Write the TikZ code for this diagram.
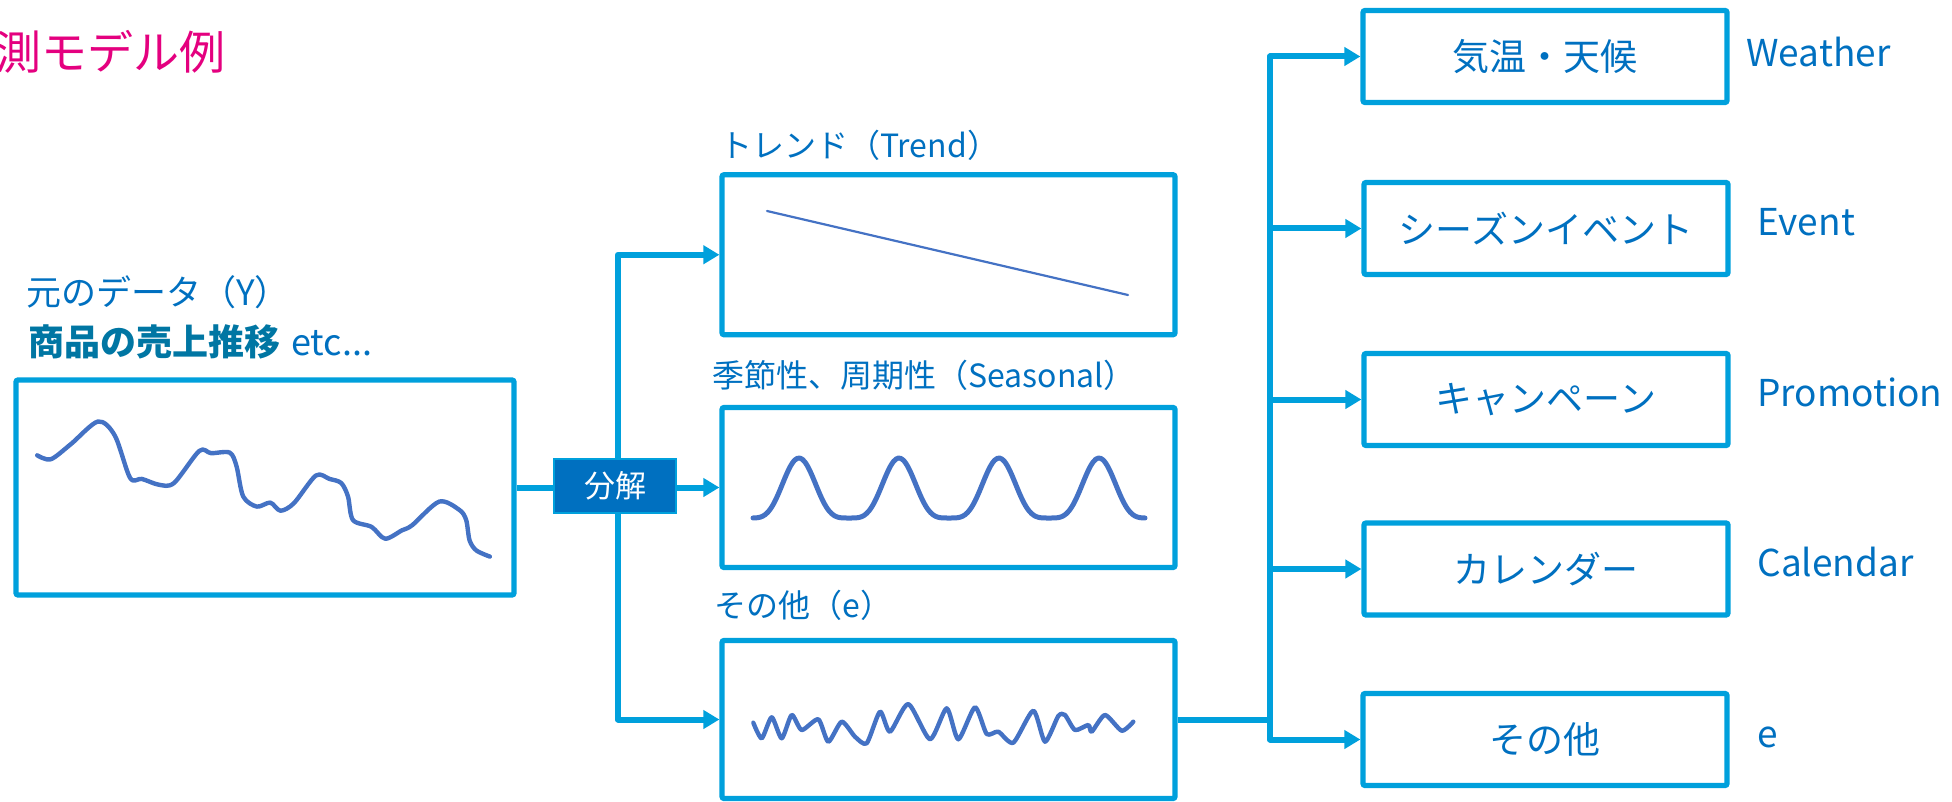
\documentclass[tikz,border=0pt]{standalone}
\usepackage{fontspec}
\setmainfont{Noto Sans CJK JP}
\usetikzlibrary{arrows.meta}
\definecolor{boxc}{RGB}{0,160,220}
\definecolor{txtc}{RGB}{0,112,192}
\definecolor{boldc}{RGB}{0,118,163}
\definecolor{wavec}{RGB}{68,114,196}
\definecolor{titlec}{RGB}{228,0,127}
\definecolor{decfill}{RGB}{0,112,192}
\begin{document}
\begin{tikzpicture}[x=0.5pt,y=-0.5pt,
  panel/.style={draw=boxc, line width=2.6pt, rounded corners=1pt, minimum width=226.5pt, minimum height=80pt, inner sep=0pt},
  rbox/.style={draw=boxc, line width=2.6pt, rounded corners=1pt, minimum width=182pt, minimum height=46pt, inner sep=0pt, text=txtc, font=\fontsize{18.5pt}{22pt}\selectfont},
  lbl/.style={anchor=west, inner sep=0pt, text=txtc, font=\fontsize{16pt}{19pt}\selectfont},
  side/.style={anchor=west, inner sep=0pt, text=txtc, font=\fontsize{18.5pt}{22pt}\selectfont},
  conn/.style={draw=boxc, line width=3pt, line join=round},
  tip/.style={-{Triangle[length=8pt,width=9pt]}},
  wave/.style={draw=wavec, line join=round, line cap=round}
]
\useasboundingbox (0,0) rectangle (1952,802);

% title
\node[anchor=west, inner sep=0pt, text=titlec, font=\fontsize{23pt}{27pt}\selectfont] (title) at (-5,52) {測モデル例};

% original data
\node[lbl, font=\fontsize{17.5pt}{21pt}\selectfont] (lorig) at (26,292) {元のデータ（Y）};
\node[anchor=west, inner sep=0pt, font=\fontsize{18pt}{22pt}\selectfont] (lsales) at (28,342) {\textcolor{boldc}{\bfseries 商品の売上推移}\hspace{0.3em}\textcolor{txtc}{etc...}};
\node[panel, minimum width=249pt, minimum height=107.5pt] (orig) at (265,487.5) {};

% components
\node[lbl] (ltrend) at (720,145) {トレンド（Trend）};
\node[panel] (trend) at (948.5,254.75) {};
\node[lbl] (lseas) at (712,375) {季節性、周期性（Seasonal）};
\node[panel] (seas) at (948.5,487.5) {};
\node[lbl] (lnoise) at (714,605) {その他（e）};
\node[panel, minimum height=79pt] (noise) at (948.5,719.5) {};

% factor boxes
\node[rbox] (weather) at (1545,56.5) {気温・天候};
\node[rbox] (event) at (1546,228.5) {シーズンイベント};
\node[rbox] (promo) at (1546,399.5) {キャンペーン};
\node[rbox] (cal) at (1546,569) {カレンダー};
\node[rbox] (other) at (1545,739.5) {その他};

\node[side] (tweather) at (1746,52) {Weather};
\node[side] (tevent) at (1757,222) {Event};
\node[side] (tpromo) at (1757,392) {Promotion};
\node[side] (tcal) at (1757,562) {Calendar};
\node[side] (tother) at (1757,737) {e};

% left connectors
\coordinate (split) at (618,487.5);
\draw[conn,tip] (orig.east) -- (seas.west);
\draw[conn,tip] (split) |- (trend.west);
\draw[conn,tip] (split) |- (noise.west);
\node[draw=boxc, line width=0.8pt, fill=decfill, minimum width=61pt, minimum height=27pt, inner sep=0pt, text=white, font=\fontsize{15.5pt}{18pt}\selectfont] (bunkai) at (615,486) {分解};

% right connectors
\coordinate (hub) at (1270,719.5);
\draw[conn] (noise.east) -- (hub);
\draw[conn,tip] (hub) |- (weather.west);
\draw[conn,tip] (hub) |- (event.west);
\draw[conn,tip] (hub) |- (promo.west);
\draw[conn,tip] (hub) |- (cal.west);
\draw[conn,tip] (hub) |- (other.west);

% curves
\draw[wave, line width=2.2pt] plot[smooth, tension=0.5] coordinates {
(37.2,455.3) (50.7,459.3) (70.9,444.1) (98.0,421.5) (114.9,435.7) (130.1,477.9)
(141.9,478.9) (158.8,484.7) (174.0,483.0) (199.3,450.9) (211.1,453.2) (229.7,452.6)
(236.5,466.1) (243.2,496.5) (256.8,506.6) (270.3,502.6) (280.4,510.7) (293.9,503.2)
(315.9,475.5) (329.4,478.9) (341.2,483.0) (348.0,496.5) (353.0,520.1) (371.6,526.9)
(385.1,538.7) (402.0,530.3) (412.2,525.2) (439.2,501.6) (459.5,510.0) (466.2,520.1)
(469.6,540.4) (476.4,550.5) (489.9,556.6)};

\draw[wave, line width=1.1pt] (767,211) -- (1128,295);

\draw[wave, line width=2.5pt] plot[domain=753:1145, samples=160, smooth]
 (\x, {518-60*cos(1.8*(\x-799))*cos(1.8*(\x-799))*cos(1.8*(\x-799))*cos(1.8*(\x-799))});

\draw[wave, line width=2.2pt] plot[smooth, tension=0.4] coordinates {
(753.3,722.7) (761.7,738.3) (771.7,717.3) (781.7,738.3) (791.7,715) (801.7,730)
(818.3,719.3) (828.3,741.7) (841.7,721.7) (855,736.7) (866.7,743.3) (880,711.7)
(890,731.7) (908.3,704) (930,739.3) (946.7,708.3) (958.3,739.3) (975,707.3)
(986.7,734) (998.3,731.7) (1013.3,742.7) (1033.3,710.7) (1045,741.7) (1058.3,716)
(1065,715) (1075,730) (1088.3,725) (1091.7,731.7) (1105,715) (1121.7,730.7) (1133.3,721.7)};
\end{tikzpicture}
\end{document}
